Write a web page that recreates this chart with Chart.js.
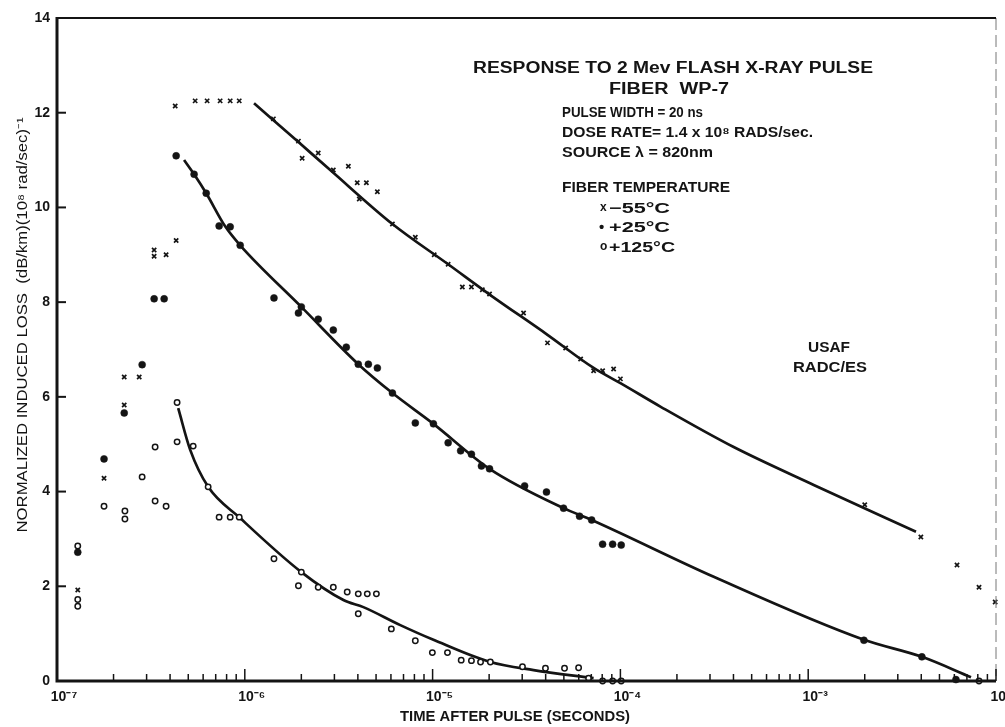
<!DOCTYPE html>
<html>
<head>
<meta charset="utf-8">
<script src="https://cdn.jsdelivr.net/npm/chart.js@4.4.0/dist/chart.umd.min.js"></script>
<style>
html,body{margin:0;padding:0;background:#fff;}
canvas{display:block;}
</style>
</head>
<body>
<canvas id="c" width="1005" height="727"></canvas>
<script>
// ---------------- DATA ----------------
// Fiber temperature -55 °C  (x marks)
const tMinus55 = [1.29e-7,1.78e-7,2.28e-7,2.28e-7,2.74e-7,3.29e-7,3.29e-7,3.81e-7,4.31e-7,4.26e-7,
  5.44e-7,6.30e-7,7.39e-7,8.36e-7,9.34e-7,1.42e-6,1.93e-6,2.02e-6,2.46e-6,2.96e-6,3.56e-6,3.97e-6,
  4.44e-6,5.08e-6,4.07e-6,6.11e-6,8.09e-6,1.02e-5,1.21e-5,1.44e-5,1.61e-5,1.84e-5,2.01e-5,3.05e-5,
  4.09e-5,5.11e-5,6.14e-5,7.20e-5,8.04e-5,9.20e-5,1.00e-4,2.00e-3,3.98e-3,6.20e-3,8.12e-3,9.9e-3];
const lossMinus55 = [1.92,4.28,6.42,5.83,6.42,9.10,8.97,9.00,9.30,12.14,
  12.25,12.25,12.25,12.25,12.25,11.87,11.40,11.04,11.15,10.79,10.87,10.52,
  10.52,10.33,10.18,9.65,9.37,9.00,8.80,8.32,8.32,8.26,8.17,7.77,
  7.14,7.03,6.80,6.55,6.55,6.59,6.38,3.72,3.04,2.45,1.98,1.67];

// Fiber temperature +25 °C  (filled dots)
const tPlus25 = [1.29e-7,1.78e-7,2.28e-7,2.84e-7,3.29e-7,3.72e-7,4.31e-7,5.37e-7,6.23e-7,7.30e-7,
  8.36e-7,9.45e-7,1.43e-6,2.00e-6,1.93e-6,2.46e-6,2.96e-6,3.47e-6,4.02e-6,4.55e-6,5.08e-6,6.11e-6,
  8.09e-6,1.01e-5,1.21e-5,1.41e-5,1.61e-5,1.82e-5,2.01e-5,3.09e-5,4.04e-5,4.98e-5,6.06e-5,7.03e-5,
  8.04e-5,9.09e-5,1.01e-4,1.98e-3,4.03e-3,6.12e-3];
const lossPlus25 = [2.72,4.69,5.66,6.68,8.07,8.07,11.09,10.70,10.30,9.61,
  9.59,9.20,8.09,7.90,7.77,7.64,7.41,7.05,6.69,6.69,6.61,6.08,
  5.45,5.43,5.03,4.86,4.79,4.54,4.48,4.12,3.99,3.65,3.48,3.40,
  2.89,2.89,2.87,0.86,0.51,0.03];

// Fiber temperature +125 °C  (open circles)
const tPlus125 = [1.29e-7,1.29e-7,1.29e-7,1.78e-7,2.30e-7,2.30e-7,2.84e-7,3.33e-7,3.33e-7,3.81e-7,
  4.36e-7,4.36e-7,5.31e-7,6.38e-7,7.30e-7,8.36e-7,9.34e-7,1.43e-6,2.00e-6,1.93e-6,2.46e-6,2.96e-6,
  3.51e-6,4.02e-6,4.49e-6,5.02e-6,4.02e-6,6.03e-6,8.09e-6,9.97e-6,1.20e-5,1.42e-5,1.61e-5,1.80e-5,
  2.03e-5,3.01e-5,3.99e-5,5.04e-5,5.99e-5,6.77e-5,8.04e-5,9.09e-5,1.01e-4,8.12e-3];
const lossPlus125 = [2.85,1.72,1.58,3.69,3.59,3.42,4.31,4.94,3.80,3.69,
  5.88,5.05,4.96,4.10,3.46,3.46,3.46,2.58,2.30,2.01,1.98,1.98,
  1.88,1.84,1.84,1.84,1.42,1.10,0.85,0.60,0.60,0.44,0.43,0.40,
  0.40,0.30,0.27,0.27,0.28,0.06,0.00,0.00,0.00,0.00];

// Hand-drawn fitted curves
const fitMinus55T = [1.12e-6,1.93e-6,2.85e-6,6.11e-6,1.21e-5,2.03e-5,4.09e-5,7.20e-5,1.00e-4,1.64e-4,4.01e-4,1.07e-3,3.75e-3];
const fitMinus55L = [12.2,11.38,10.79,9.65,8.80,8.15,7.31,6.61,6.29,5.79,4.94,4.14,3.15];
const fitPlus25T = [4.75e-7,5.37e-7,6.23e-7,7.86e-7,9.45e-7,2.00e-6,4.02e-6,6.11e-6,1.01e-5,2.01e-5,4.98e-5,7.03e-5,3.14e-4,1.98e-3,4.03e-3,7.36e-3];
const fitPlus25L = [11.0,10.7,10.3,9.6,9.2,7.9,6.69,6.08,5.43,4.48,3.65,3.40,2.2,0.87,0.51,0.08];
const fitPlus125T = [4.42e-7,5.12e-7,6.38e-7,9.45e-7,2.00e-6,3.35e-6,4.28e-6,6.73e-6,1.01e-5,2.03e-5,3.45e-5,7.20e-5];
const fitPlus125L = [5.76,4.88,4.10,3.44,2.30,1.71,1.56,1.18,0.87,0.40,0.23,0.06];

// Axis ticks
const yTicks = [0,2,4,6,8,10,12,14];
const xDecades = [-7,-6,-5,-4,-3,-2];
const xMinorMultipliers = [1,2,3,4,5,6,7,8,9];

// ---------------- helpers ----------------
const INK = '#141414';
const FONT = '"Liberation Sans", Arial, sans-serif';
const SUP = {'-':'\u207B','0':'\u2070','1':'\u00B9','2':'\u00B2','3':'\u00B3','4':'\u2074','5':'\u2075','6':'\u2076','7':'\u2077','8':'\u2078','9':'\u2079'};
const sup = n => String(n).split('').map(c => SUP[c] || c).join('');
const isDecade = v => Math.abs(Math.log10(v) - Math.round(Math.log10(v))) < 1e-6;
const pts = (xs, ys) => xs.map((x, i) => ({x, y: ys[i]}));

const xTickValues = [];
xDecades.forEach(e => {
  if (e === xDecades[xDecades.length - 1]) { xTickValues.push(Math.pow(10, e)); return; }
  xMinorMultipliers.forEach(m => xTickValues.push(m * Math.pow(10, e)));
});

function fitText(ctx, str, x, capY, width, size, weight, align, rot) {
  ctx.save();
  ctx.font = `${weight} ${size}px ${FONT}`;
  const w = ctx.measureText(str).width;
  const sx = width ? width / w : 1;
  ctx.translate(x, capY);
  if (rot) ctx.rotate(rot);
  ctx.scale(sx, 1);
  ctx.textAlign = align;
  ctx.textBaseline = 'alphabetic';
  ctx.fillStyle = INK;
  ctx.fillText(str, 0, size * 0.36);
  ctx.restore();
}

const frameAndTicks = {
  id: 'frameAndTicks',
  afterDraw(chart) {
    const {ctx, chartArea: a, scales: {x, y}} = chart;
    ctx.save();
    ctx.lineCap = 'butt';
    ctx.lineWidth = 1;
    ctx.strokeStyle = '#777';
    ctx.setLineDash([12, 5]);
    ctx.beginPath(); ctx.moveTo(a.right, a.top); ctx.lineTo(a.right, a.bottom); ctx.stroke();
    ctx.setLineDash([]);
    ctx.strokeStyle = INK;
    ctx.lineWidth = 2;
    ctx.beginPath(); ctx.moveTo(a.left, a.top); ctx.lineTo(a.right, a.top); ctx.stroke();
    ctx.lineWidth = 3;
    ctx.beginPath(); ctx.moveTo(a.left, a.top - 1); ctx.lineTo(a.left, a.bottom); ctx.lineTo(a.right, a.bottom); ctx.stroke();
    ctx.lineWidth = 1.5;
    x.ticks.forEach(t => {
      const px = x.getPixelForValue(t.value);
      const len = isDecade(t.value) ? 12 : 7;
      ctx.beginPath(); ctx.moveTo(px, a.bottom); ctx.lineTo(px, a.bottom - len); ctx.stroke();
    });
    ctx.lineWidth = 2;
    y.ticks.forEach(t => {
      const py = y.getPixelForValue(t.value);
      ctx.beginPath(); ctx.moveTo(a.left, py); ctx.lineTo(a.left + 9, py); ctx.stroke();
    });
    ctx.restore();
  }
};

const annotations = {
  id: 'annotations',
  afterDraw(chart) {
    const ctx = chart.ctx;
    fitText(ctx, 'RESPONSE TO 2 Mev FLASH X-RAY PULSE', 673, 67, 400, 16, 'bold', 'center');
    fitText(ctx, 'FIBER  WP-7', 669, 88, 120, 16, 'bold', 'center');
    fitText(ctx, 'PULSE WIDTH = 20 ns', 562, 112, 141, 14.5, 'bold', 'left');
    fitText(ctx, 'DOSE RATE= 1.4 x 10\u2078 RADS/sec.', 562, 132, 251, 14.5, 'bold', 'left');
    fitText(ctx, 'SOURCE \u03BB = 820nm', 562, 152, 151, 14.5, 'bold', 'left');
    fitText(ctx, 'FIBER TEMPERATURE', 562, 187, 168, 14.5, 'bold', 'left');
    fitText(ctx, 'x', 600, 207, 0, 12, 'bold', 'left');
    fitText(ctx, '\u221255\u00B0C', 609, 208, 61, 14.5, 'bold', 'left');
    fitText(ctx, '\u2022', 599, 227, 0, 15, 'bold', 'left');
    fitText(ctx, '+25\u00B0C', 609, 227, 61, 14.5, 'bold', 'left');
    fitText(ctx, 'o', 600, 246, 0, 12, 'bold', 'left');
    fitText(ctx, '+125\u00B0C', 609, 247, 66, 14.5, 'bold', 'left');
    fitText(ctx, 'USAF', 829, 347, 42, 14.5, 'bold', 'center');
    fitText(ctx, 'RADC/ES', 830, 367, 74, 14.5, 'bold', 'center');
    fitText(ctx, 'TIME AFTER PULSE (SECONDS)', 515, 716, 230, 14, 'bold', 'center');
    fitText(ctx, 'NORMALIZED INDUCED LOSS  (dB/km)(10\u2078 rad/sec)\u207B\u00B9', 22, 325, 415, 14, 'normal', 'center', -Math.PI / 2);
  }
};

const markerBase = {showLine: false, clip: false, order: 0};
const curveBase = {showLine: true, pointRadius: 0, borderColor: INK, borderWidth: 2.7,
  cubicInterpolationMode: 'monotone', fill: false, order: 1, clip: false};

new Chart(document.getElementById('c'), {
  type: 'scatter',
  data: {
    datasets: [
      Object.assign({label: '-55°C', data: pts(tMinus55, lossMinus55), pointStyle: 'crossRot',
        pointRadius: 3, borderColor: INK, borderWidth: 1.7, backgroundColor: INK}, markerBase),
      Object.assign({label: '+25°C', data: pts(tPlus25, lossPlus25), pointStyle: 'circle',
        pointRadius: 3.5, borderColor: INK, borderWidth: 0.5, backgroundColor: INK}, markerBase),
      Object.assign({label: '+125°C', data: pts(tPlus125, lossPlus125), pointStyle: 'circle',
        pointRadius: 2.7, borderColor: INK, borderWidth: 1.5, backgroundColor: '#fff'}, markerBase),
      Object.assign({label: 'fit -55', data: pts(fitMinus55T, fitMinus55L)}, curveBase),
      Object.assign({label: 'fit +25', data: pts(fitPlus25T, fitPlus25L)}, curveBase),
      Object.assign({label: 'fit +125', data: pts(fitPlus125T, fitPlus125L)}, curveBase)
    ]
  },
  options: {
    responsive: false,
    animation: false,
    devicePixelRatio: 1,
    layout: {padding: {top: 18, right: 9, left: 0, bottom: 0}},
    plugins: {legend: {display: false}, tooltip: {enabled: false}, title: {display: false}},
    scales: {
      x: {
        type: 'logarithmic', min: 1e-7, max: 1e-2,
        grid: {display: false, drawTicks: false}, border: {display: false},
        afterBuildTicks: s => { s.ticks = xTickValues.map(v => ({value: v, major: isDecade(v)})); },
        afterFit: s => { s.height = 46; s.paddingLeft = 0; s.paddingRight = 0; },
        ticks: {
          autoSkip: false, maxRotation: 0, minRotation: 0, padding: 8, labelOffset: 7,
          color: INK, font: {family: FONT, size: 14, weight: 'bold'},
          callback: v => isDecade(v) ? '10' + sup(Math.round(Math.log10(v))) : ''
        }
      },
      y: {
        min: 0, max: 14,
        grid: {display: false, drawTicks: false}, border: {display: false},
        afterBuildTicks: s => { s.ticks = yTicks.map(v => ({value: v})); },
        afterFit: s => { s.width = 57; s.paddingTop = 0; s.paddingBottom = 0; },
        ticks: {
          padding: 7, color: INK, font: {family: FONT, size: 14, weight: 'bold'},
          callback: v => String(v)
        }
      }
    }
  },
  plugins: [frameAndTicks, annotations]
});
</script>
</body>
</html>
